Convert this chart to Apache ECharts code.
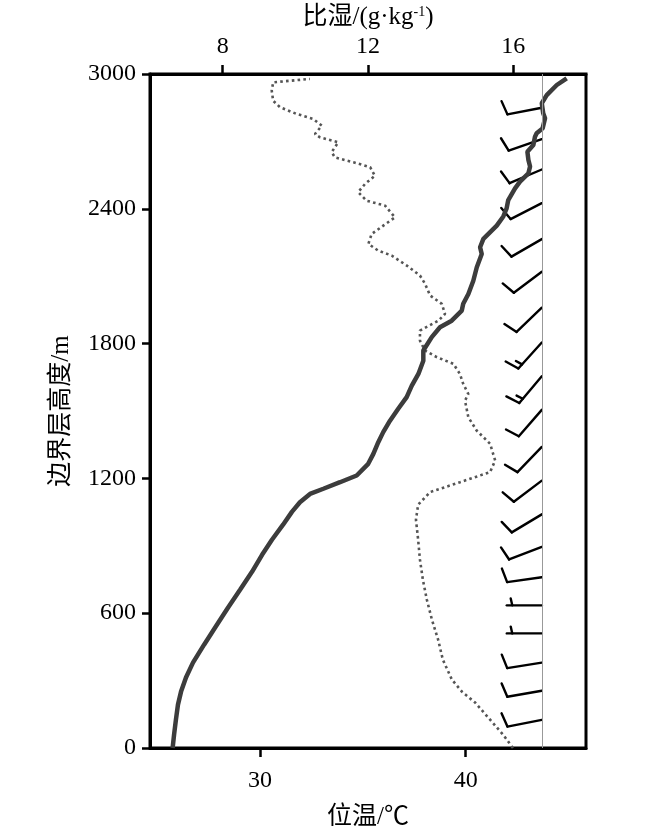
<!DOCTYPE html>
<html>
<head>
<meta charset="utf-8">
<title>边界层廓线</title>
<script src="https://cdn.jsdelivr.net/npm/echarts@6/dist/echarts.min.js"></script>
<style>
  html, body { margin: 0; padding: 0; background: #fff; }
  #chart { width: 650px; height: 828px; }
</style>
</head>
<body>
<div id="chart"></div>
<script>
// 位温廓线 (℃, m)
var thetaHeights = [0, 59, 126, 193, 251, 314, 380, 460, 535, 624, 704, 784, 860, 927, 994, 1051, 1094,
  1131, 1154, 1183, 1213, 1265, 1309, 1361, 1406, 1457, 1510, 1562, 1613, 1665, 1724, 1769, 1829,
  1873, 1902, 1947, 1977, 2021, 2080, 2140, 2199, 2229, 2266, 2325, 2366, 2402, 2439, 2491, 2521,
  2558, 2588, 2617, 2654, 2684, 2721, 2736, 2758, 2803, 2825, 2870, 2906, 2951, 2981];
var thetaValues = [25.75, 25.82, 25.91, 26.01, 26.16, 26.40, 26.74, 27.28, 27.81, 28.44, 29.03, 29.61, 30.10, 30.58, 31.12, 31.55, 31.94,
  32.43, 33.08, 33.89, 34.70, 35.26, 35.51, 35.75, 35.99, 36.32, 36.72, 37.13, 37.38, 37.70, 37.94, 37.94, 38.35,
  38.75, 39.32, 39.81, 39.88, 40.13, 40.37, 40.54, 40.78, 40.70, 40.86, 41.51, 41.83, 41.99, 42.07, 42.40, 42.64,
  43.05, 43.13, 43.05, 43.00, 43.29, 43.37, 43.45, 43.74, 43.86, 43.77, 43.70, 43.94, 44.43, 44.91];

// 比湿廓线 (g/kg, m)
var qHeights = [0, 59, 126, 202, 250, 304, 393, 482, 571, 660, 749, 838, 927, 1016, 1083, 1139, 1183,
  1228, 1280, 1354, 1413, 1473, 1546, 1576, 1621, 1665, 1710, 1740, 1769, 1813, 1858, 1902, 1932,
  1977, 2014, 2066, 2103, 2147, 2192, 2214, 2244, 2288, 2325, 2362, 2414, 2436, 2474, 2511, 2547,
  2585, 2607, 2629, 2652, 2696, 2718, 2733, 2770, 2800, 2822, 2852, 2881, 2926, 2963, 2978];
var qValues = [15.99, 15.72, 15.36, 14.95, 14.59, 14.31, 14.06, 13.93, 13.76, 13.62, 13.51, 13.43, 13.38, 13.32, 13.38, 13.71, 14.53,
  15.36, 15.50, 15.36, 14.99, 14.76, 14.67, 14.76, 14.62, 14.53, 14.35, 13.89, 13.57, 13.43, 13.43, 13.94, 14.12,
  14.03, 13.71, 13.57, 13.43, 13.07, 12.65, 12.28, 12.01, 12.10, 12.42, 12.74, 12.47, 11.96, 11.73, 11.92, 12.19,
  12.06, 11.60, 11.09, 11.00, 11.18, 10.68, 10.54, 10.73, 10.49, 10.04, 9.58, 9.39, 9.35, 9.39, 10.40];

// 风羽: 高度 (m), 风向 (°), 风速 (m/s)
var barbHeights = [125, 255, 380, 510, 635, 760, 895, 1040, 1190, 1340, 1505, 1655, 1805, 1960, 2120, 2265, 2425, 2575, 2710, 2850];
var barbDirections = [259, 260, 261, 270, 270, 262, 249, 239, 233, 224, 221, 220, 222, 226, 233, 240, 243, 247, 251, 259];
var barbSpeeds = [4, 4, 4, 2, 2, 4, 4, 4, 4, 4, 4, 6, 6, 4, 4, 4, 4, 4, 4, 4];
var barbBaseTemp = 43.7;

// 刻度
var thetaTicks = [30, 40];
var qTicks = [8, 12, 16];

var fontFamily = "'Liberation Serif', 'Noto Sans CJK SC', serif";

function pairs(xs, ys) {
  return ys.map(function (y, i) { return [xs[i], y]; });
}

function renderBarb(params, api) {
  var staffLen = 35, featherLen = 14.5, halfLen = 7, step = 5.5;
  var p = api.coord([api.value(0), api.value(1)]);
  var a = (api.value(2) - 90) * Math.PI / 180;
  var speed = api.value(3);
  var dx = Math.cos(a), dy = Math.sin(a);
  var tip = [p[0] + staffLen * dx, p[1] + staffLen * dy];
  var f = a + 77 * Math.PI / 180;
  var fx = Math.cos(f), fy = Math.sin(f);
  var style = { stroke: '#000', lineWidth: 2.4, lineCap: 'round' };
  var children = [{ type: 'line', shape: { x1: p[0], y1: p[1], x2: tip[0], y2: tip[1] }, style: style }];
  var full = Math.floor(speed / 4);
  var half = speed % 4 >= 2 ? 1 : 0;
  var pos = 0;
  for (var i = 0; i < full; i++) {
    var sx = tip[0] - dx * step * pos, sy = tip[1] - dy * step * pos;
    children.push({ type: 'line', shape: { x1: sx, y1: sy, x2: sx + fx * featherLen, y2: sy + fy * featherLen }, style: style });
    pos++;
  }
  if (half) {
    if (full === 0) pos = 1;
    var hx = tip[0] - dx * step * pos, hy = tip[1] - dy * step * pos;
    children.push({ type: 'line', shape: { x1: hx, y1: hy, x2: hx + fx * halfLen, y2: hy + fy * halfLen }, style: style });
  }
  return { type: 'group', children: children };
}

var chart = echarts.init(document.getElementById('chart'));
var axisLine = { show: true, lineStyle: { color: '#000', width: 3 } };
var labelStyle = { color: '#000', fontSize: 24, fontFamily: fontFamily };
var nameStyle = { color: '#000', fontSize: 25, fontFamily: fontFamily };

var option = {
  animation: false,
  grid: {
    left: 150, right: 64, top: 74, bottom: 80,
    outerBoundsMode: 'none',
    show: true, borderColor: '#000', borderWidth: 3
  },
  xAxis: [{
    type: 'value',
    position: 'bottom',
    min: 24.65,
    max: 45.85,
    name: '位温/℃',
    nameLocation: 'middle',
    nameGap: 57,
    nameTextStyle: nameStyle,
    axisLine: axisLine,
    axisTick: { show: true, length: 9, lineStyle: { color: '#000', width: 2.5 }, customValues: thetaTicks },
    axisLabel: Object.assign({ margin: 21, customValues: thetaTicks }, labelStyle),
    splitLine: { show: false }
  }, {
    type: 'value',
    position: 'top',
    min: 6,
    max: 18,
    name: '比湿/(g·kg{sup|-1})',
    nameLocation: 'middle',
    nameGap: 44,
    nameTextStyle: Object.assign({ rich: { sup: { fontSize: 14, verticalAlign: 'top', fontFamily: fontFamily, color: '#000', padding: [0, 0, 8, 0] } } }, nameStyle),
    axisLine: axisLine,
    axisTick: { show: true, length: 9, lineStyle: { color: '#000', width: 2.5 }, customValues: qTicks },
    axisLabel: Object.assign({ margin: 15, customValues: qTicks }, labelStyle),
    splitLine: { show: false }
  }],
  yAxis: {
    type: 'value',
    min: 0,
    max: 3000,
    interval: 600,
    name: '边界层高度/m',
    nameLocation: 'middle',
    nameGap: 76,
    nameTextStyle: nameStyle,
    axisLine: axisLine,
    axisTick: { show: true, length: 8, lineStyle: { color: '#000', width: 2.5 } },
    axisLabel: Object.assign({ margin: 14, formatter: function (v) { return String(v); } }, labelStyle),
    splitLine: { show: false }
  },
  series: [{
    name: '比湿',
    type: 'line',
    xAxisIndex: 1,
    data: pairs(qValues, qHeights),
    symbol: 'none',
    lineStyle: { color: '#555', width: 2.6, type: [2.6, 3.2] },
    z: 2
  }, {
    name: '风羽',
    type: 'custom',
    xAxisIndex: 0,
    renderItem: renderBarb,
    data: barbHeights.map(function (h, i) { return [barbBaseTemp, h, barbDirections[i], barbSpeeds[i]]; }),
    encode: { x: 0, y: 1 },
    z: 3
  }, {
    name: '位温',
    type: 'line',
    xAxisIndex: 0,
    data: pairs(thetaValues, thetaHeights),
    symbol: 'none',
    lineStyle: { color: '#3c3c3c', width: 4.5 },
    markLine: {
      silent: true,
      symbol: ['none', 'none'],
      label: { show: false },
      lineStyle: { color: '#999', width: 1, type: 'solid' },
      data: [{ xAxis: barbBaseTemp }]
    },
    z: 4
  }]
};
chart.setOption(option);
</script>
</body>
</html>
